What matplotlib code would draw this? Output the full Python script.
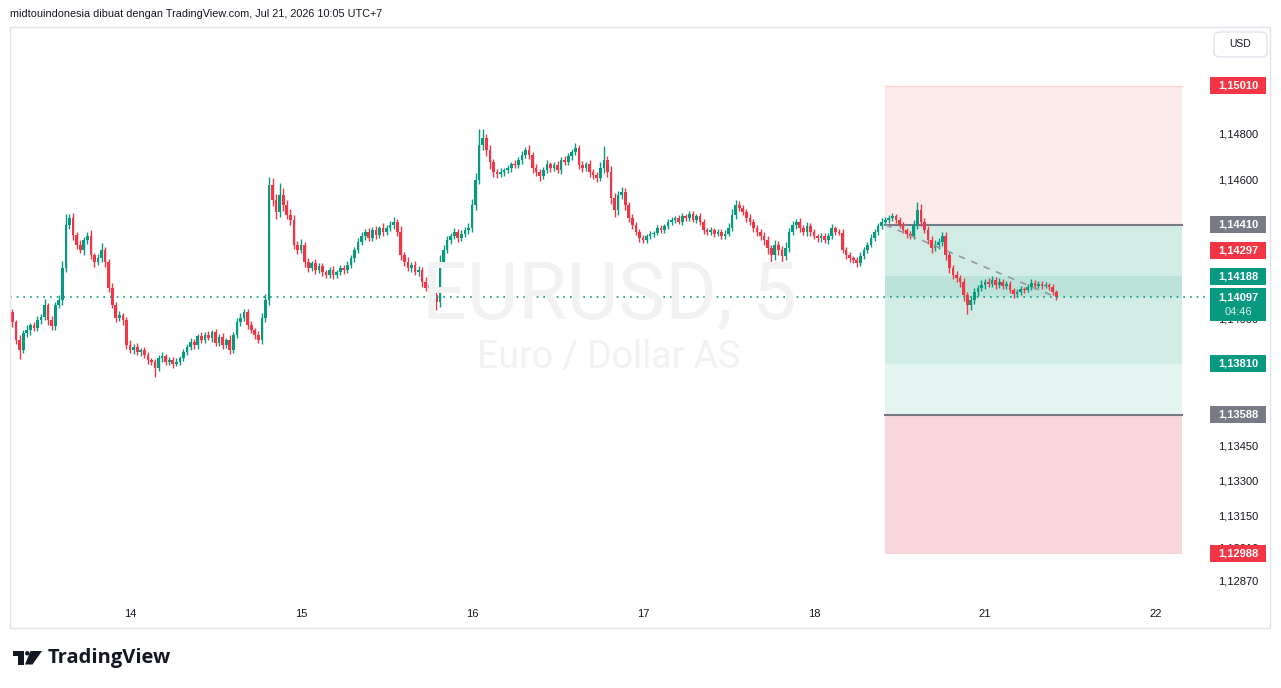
import matplotlib.pyplot as plt
import matplotlib.transforms as mtransforms
from matplotlib.patches import Rectangle, FancyBboxPatch, Polygon, Circle
import numpy as np

# ---- data (30 min bars) ----
closes = [
    1.14033, 1.13990, 1.13912, 1.13869, 1.13942, 1.13955, 1.13977, 1.13964, 1.13998, 1.14011,
    1.14063, 1.13998, 1.13972, 1.14063, 1.14085, 1.14223, 1.14409, 1.14439, 1.14366, 1.14323,
    1.14301, 1.14344, 1.14361, 1.14279, 1.14249, 1.14266, 1.14301, 1.14249, 1.14137, 1.14063,
    1.14007, 1.14020, 1.13998, 1.13890, 1.13869, 1.13882, 1.13860, 1.13869, 1.13847, 1.13825,
    1.13817, 1.13791, 1.13834, 1.13843, 1.13817, 1.13825, 1.13808, 1.13817, 1.13834, 1.13860,
    1.13882, 1.13903, 1.13890, 1.13929, 1.13912, 1.13934, 1.13921, 1.13946, 1.13899, 1.13925,
    1.13890, 1.13912, 1.13869, 1.13934, 1.13990, 1.14007, 1.14033, 1.13977, 1.13955, 1.13934,
    1.13912, 1.14007, 1.14085, 1.14582, 1.14517, 1.14465, 1.14539, 1.14496, 1.14452, 1.14431,
    1.14323, 1.14301, 1.14323, 1.14249, 1.14223, 1.14245, 1.14215, 1.14232, 1.14206, 1.14193,
    1.14215, 1.14193, 1.14206, 1.14223, 1.14215, 1.14236, 1.14266, 1.14301, 1.14335, 1.14361,
    1.14378, 1.14353, 1.14387, 1.14366, 1.14396, 1.14378, 1.14396, 1.14409, 1.14422, 1.14378,
    1.14279, 1.14249, 1.14223, 1.14236, 1.14206, 1.14215, 1.14163, 1.14137, 1.14150, 1.14107,
    1.14076, 1.14249, 1.14301, 1.14344, 1.14361, 1.14378, 1.14353, 1.14370, 1.14387, 1.14396,
    1.14496, 1.14604, 1.14755, 1.14785, 1.14733, 1.14681, 1.14638, 1.14629, 1.14638, 1.14647,
    1.14655, 1.14673, 1.14668, 1.14690, 1.14712, 1.14733, 1.14712, 1.14655, 1.14638, 1.14621,
    1.14647, 1.14673, 1.14655, 1.14668, 1.14647, 1.14690, 1.14681, 1.14707, 1.14725, 1.14742,
    1.14668, 1.14655, 1.14673, 1.14638, 1.14625, 1.14612, 1.14655, 1.14690, 1.14638, 1.14526,
    1.14474, 1.14539, 1.14552, 1.14496, 1.14439, 1.14409, 1.14378, 1.14353, 1.14344, 1.14361,
    1.14370, 1.14374, 1.14396, 1.14387, 1.14404, 1.14422, 1.14431, 1.14439, 1.14422, 1.14448,
    1.14439, 1.14457, 1.14431, 1.14448, 1.14422, 1.14387, 1.14378, 1.14387, 1.14370, 1.14378,
    1.14361, 1.14370, 1.14396, 1.14452, 1.14496, 1.14483, 1.14465, 1.14439, 1.14422, 1.14396,
    1.14378, 1.14361, 1.14344, 1.14309, 1.14279, 1.14323, 1.14301, 1.14275, 1.14309, 1.14378,
    1.14409, 1.14422, 1.14396, 1.14378, 1.14404, 1.14378, 1.14361, 1.14353, 1.14361, 1.14344,
    1.14361, 1.14396, 1.14378, 1.14374, 1.14301, 1.14279, 1.14266, 1.14258, 1.14245, 1.14275,
    1.14301, 1.14323, 1.14353, 1.14378, 1.14404, 1.14422, 1.14431, 1.14439, 1.14448, 1.14431,
    1.14409, 1.14387, 1.14370, 1.14361, 1.14409, 1.14474, 1.14422, 1.14387, 1.14344, 1.14309,
    1.14323, 1.14335, 1.14361, 1.14279, 1.14223, 1.14193, 1.14180, 1.14163, 1.14107, 1.14063,
    1.14085, 1.14120, 1.14137, 1.14150, 1.14163, 1.14154, 1.14171, 1.14150, 1.14163, 1.14145,
    1.14154, 1.14128, 1.14111, 1.14120, 1.14132, 1.14128, 1.14141, 1.14158, 1.14145, 1.14154,
    1.14145, 1.14150, 1.14141, 1.14120, 1.14097,
]
first_open = 1.14011

# wick lengths above / below the body, in points (0.00001)
upper_wick = [
    18, 12, 10, 20, 15, 22, 10, 14, 20, 12,
    25, 10, 18, 15, 20, 30, 25, 16, 20, 14,
    22, 12, 18, 25, 10, 16, 30, 12, 15, 20,
    12, 18, 10, 15, 20, 12, 16, 10, 14, 12,
    10, 15, 12, 18, 10, 14, 12, 16, 10, 14,
    12, 18, 14, 10, 16, 12, 18, 10, 14, 12,
    16, 10, 20, 14, 18, 22, 15, 12, 18, 10,
    15, 20, 25, 35, 30, 25, 45, 30, 20, 25,
    20, 15, 25, 12, 18, 10, 16, 12, 14, 10,
    12, 16, 10, 14, 12, 18, 15, 12, 16, 20,
    14, 18, 12, 16, 10, 20, 14, 18, 22, 12,
    25, 14, 20, 12, 16, 18, 12, 20, 14, 16,
    15, 30, 20, 16, 14, 18, 12, 16, 14, 20,
    25, 30, 20, 40, 18, 22, 14, 12, 16, 10,
    14, 10, 16, 12, 18, 14, 20, 12, 16, 14,
    12, 18, 10, 14, 16, 12, 18, 14, 12, 22,
    14, 16, 10, 18, 12, 14, 25, 60, 18, 25,
    20, 18, 22, 16, 14, 18, 12, 16, 14, 10,
    12, 10, 14, 12, 10, 14, 12, 10, 14, 12,
    10, 14, 12, 10, 14, 12, 10, 12, 10, 14,
    12, 16, 20, 25, 20, 16, 14, 12, 16, 12,
    14, 12, 16, 18, 14, 20, 16, 18, 25, 20,
    18, 14, 16, 12, 18, 12, 14, 10, 12, 14,
    12, 18, 10, 12, 16, 12, 14, 10, 12, 16,
    12, 14, 16, 12, 14, 16, 12, 14, 12, 10,
    14, 12, 10, 14, 20, 35, 25, 18, 20, 16,
    22, 18, 20, 16, 14, 12, 16, 14, 18, 12,
    18, 16, 14, 20, 14, 16, 18, 14, 16, 12,
    14, 12, 10, 14, 12, 10, 14, 16, 12, 14,
    12, 14, 10, 12, 8,
]
lower_wick = [
    15, 20, 18, 40, 12, 16, 20, 12, 15, 18,
    12, 20, 15, 18, 14, 20, 15, 18, 22, 16,
    14, 20, 16, 18, 22, 12, 16, 20, 18, 14,
    16, 12, 20, 18, 14, 16, 12, 18, 14, 16,
    14, 40, 12, 16, 14, 12, 18, 10, 14, 12,
    14, 12, 16, 18, 12, 14, 10, 16, 12, 14,
    18, 12, 16, 14, 12, 16, 14, 18, 12, 16,
    14, 18, 16, 20, 25, 30, 20, 25, 18, 20,
    16, 18, 14, 20, 16, 14, 18, 12, 16, 14,
    12, 16, 14, 12, 16, 14, 12, 16, 14, 12,
    16, 14, 12, 18, 14, 16, 12, 14, 16, 18,
    20, 16, 14, 18, 12, 16, 20, 14, 16, 18,
    35, 20, 16, 14, 18, 12, 16, 14, 12, 16,
    18, 20, 16, 20, 25, 30, 20, 16, 14, 18,
    12, 16, 14, 12, 16, 14, 18, 20, 16, 22,
    14, 12, 16, 14, 12, 16, 14, 12, 16, 14,
    18, 16, 14, 20, 18, 16, 14, 20, 22, 25,
    30, 20, 18, 20, 16, 18, 14, 16, 12, 14,
    12, 14, 10, 12, 14, 10, 12, 14, 10, 12,
    14, 12, 10, 14, 12, 16, 12, 14, 12, 10,
    12, 14, 10, 14, 16, 12, 14, 16, 14, 18,
    16, 18, 20, 25, 30, 20, 22, 25, 18, 16,
    14, 16, 18, 14, 16, 18, 14, 16, 18, 14,
    16, 12, 14, 10, 14, 16, 18, 14, 16, 12,
    14, 12, 10, 14, 12, 10, 12, 14, 12, 14,
    12, 14, 16, 14, 12, 16, 18, 14, 16, 20,
    14, 16, 18, 20, 22, 18, 16, 20, 25, 40,
    20, 16, 18, 14, 16, 12, 14, 16, 12, 14,
    12, 14, 16, 12, 14, 12, 10, 14, 12, 10,
    12, 10, 14, 12, 10,
]
# extreme spikes visible on the chart
spike_highs = {16: 1.14455, 73: 1.14617, 76: 1.14591, 108: 1.14431, 132: 1.14825,
               159: 1.14764, 167: 1.14750, 204: 1.14517, 255: 1.14505}
spike_lows = {3: 1.13835, 41: 1.13774, 120: 1.14050, 214: 1.14245, 269: 1.14029}

day_labels = ["14", "15", "16", "17", "18", "21", "22"]
first_day_bar = 34
bars_per_day = 48

# position tool
tool_start = 246
tool_end = 329.3
stop_top = 1.15010
entry = 1.14410
zone_top = 1.14188
zone_bottom = 1.13810
target = 1.13588
stop_bottom = 1.12988
last_price = 1.14097
countdown = "04:46"

axis_ticks = [1.14800, 1.14600, 1.14400, 1.14200, 1.14000, 1.13450, 1.13300, 1.13150, 1.13010, 1.12870]
badges = [(1.15010, "#f23645"), (1.14410, "#787b86"), (1.14297, "#f23645"), (1.14188, "#089981"),
          (1.13810, "#089981"), (1.13588, "#787b86"), (1.12988, "#f23645")]

UP = "#089981"
DOWN = "#f23645"
W, H = 1281, 688
PX = 1 / 23131  # price per pixel

fig = plt.figure(figsize=(W / 100, H / 100), dpi=100)
fig.patch.set_facecolor("white")
ax = fig.add_axes([10 / W, (H - 598) / H, 1260 / W, 571 / H])
ax.set_xlim(0.3, 354.0)
ax.set_ylim(1.12797, 1.15265)
for s in ax.spines.values():
    s.set_visible(False)
ax.set_yticks([])

# frame
fig.patches.append(Rectangle((10 / W, (H - 628) / H), 1260 / W, 601 / H, transform=fig.transFigure,
                             fill=False, ec="#e0e3eb", lw=1))

# watermark
fig.text(609 / W, (H - 318) / H, "EURUSD, 5", ha="center", va="baseline",
         fontsize=57, family="Roboto", color="#f2f2f3", zorder=0)
fig.text(609 / W, (H - 368) / H, "Euro / Dollar AS", ha="center", va="baseline",
         fontsize=27, family="Roboto", color="#f2f2f3", zorder=0)
ax.patch.set_alpha(0)

# position tool
tw = tool_end - tool_start
ax.add_patch(Rectangle((tool_start, entry), tw, stop_top - entry, fc="#fdeaea", ec="none", zorder=1))
ax.add_patch(Rectangle((tool_start, zone_bottom), tw, entry - zone_bottom, fc="#d1ebe5", ec="none", zorder=1))
ax.add_patch(Rectangle((tool_start, last_price), tw, zone_top - last_price, fc="#bbe3d9", ec="none", zorder=1))
ax.add_patch(Rectangle((tool_start, target), tw, zone_bottom - target, fc="#e4f4f0", ec="none", zorder=1))
ax.add_patch(Rectangle((tool_start, stop_bottom), tw, target - stop_bottom, fc="#f9d6da", ec="none", zorder=1))
ax.plot([tool_start, tool_end], [entry, entry], color="#787b86", lw=1.5, zorder=2)
ax.plot([tool_start, tool_end], [target, target], color="#787b86", lw=1.5, zorder=2)
ax.plot([tool_start, tool_end], [stop_top, stop_top], color="#fbd3d3", lw=1, zorder=2)

# candles
c = np.array(closes)
x = np.arange(len(c))
o = np.r_[first_open, c[:-1]]
lo = np.minimum(o, c)
hi = np.maximum(o, c)
colors = np.where(c >= o, UP, DOWN)
wh = hi + np.array(upper_wick) * 1e-5
wl = lo - np.array(lower_wick) * 1e-5
for k, v in spike_highs.items():
    wh[k] = max(wh[k], v)
for k, v in spike_lows.items():
    wl[k] = min(wl[k], v)
ax.vlines(x, wl, wh, colors=colors, lw=1.0, zorder=3)
ax.bar(x, np.maximum(hi - lo, 1.5 * PX), bottom=lo, width=0.75, color=colors, lw=0, zorder=3)

# dashed path from entry to last price
ax.plot([tool_start, x[-1]], [entry, last_price], color="#9598a1", lw=1.2, ls=(0, (4, 4)), zorder=4)

# last price line
ax.axhline(last_price, xmin=0, xmax=1198 / 1260, color=UP, lw=1.2, ls=(0, (1, 3)), zorder=4)

# date axis
ax.set_xticks([first_day_bar + bars_per_day * k for k in range(len(day_labels))])
ax.set_xticklabels(day_labels, fontsize=8, family="Liberation Sans", color="#131722")
ax.tick_params(axis="x", length=0, pad=8)

# price axis
tr = mtransforms.blended_transform_factory(ax.transAxes, ax.transData)
xc = (1238 - 10) / 1260
bx0 = (1210 - 10) / 1260
bw = 56 / 1260
for v in axis_ticks:
    ax.text(xc, v, f"{v:.5f}".replace(".", ","), transform=tr, ha="center", va="center",
            fontsize=8, family="Liberation Sans", color="#131722", zorder=5)

for v, col in badges:
    ax.add_patch(Rectangle((bx0, v - 8.5 * PX), bw, 17 * PX, transform=tr,
                           fc=col, ec="none", zorder=6, clip_on=False))
    ax.text(xc, v, f"{v:.5f}".replace(".", ","), transform=tr, ha="center", va="center",
            fontsize=8, family="Liberation Sans", fontweight="bold", color="white", zorder=7)

# last price badge with countdown
ax.add_patch(Rectangle((bx0, last_price - 24 * PX), bw, 33 * PX, transform=tr,
                       fc=UP, ec="none", zorder=6, clip_on=False))
ax.text(xc, last_price, f"{last_price:.5f}".replace(".", ","), transform=tr, ha="center", va="center",
        fontsize=8, family="Liberation Sans", fontweight="bold", color="white", zorder=7)
ax.text(xc, last_price - 15 * PX, countdown, transform=tr, ha="center", va="center",
        fontsize=8, family="Liberation Sans", color="#d8f0ea", zorder=7)

# currency button
fig.patches.append(FancyBboxPatch((1214 / W, (H - 57) / H), 53 / W, 25 / H,
                                  boxstyle="round,pad=0,rounding_size=0.006",
                                  transform=fig.transFigure, fc="white", ec="#e0e3eb", lw=1))
fig.text(1240 / W, (H - 44) / H, "USD", ha="center", va="center", fontsize=7.5,
         family="Liberation Sans", color="#131722")

# header
fig.text(10 / W, (H - 14) / H, "midtouindonesia dibuat dengan TradingView.com, Jul 21, 2026 10:05 UTC+7",
         ha="left", va="center", fontsize=7.8, family="Liberation Sans", color="#131722")

# logo
lg = fig.add_axes([12 / W, (H - 668) / H, 32 / W, 20 / H])
lg.set_xlim(12, 44)
lg.set_ylim(668, 648)
lg.axis("off")
lg.add_patch(Rectangle((12.5, 651), 11.5, 4.5, fc="#131722", ec="none"))
lg.add_patch(Rectangle((18.2, 651), 5.8, 13.5, fc="#131722", ec="none"))
lg.add_patch(Circle((27.3, 653.3), 2.2, fc="#131722", ec="none"))
lg.add_patch(Polygon([(30.5, 651), (42, 651), (32.5, 664.5), (25, 664.5)], fc="#131722", ec="none"))
fig.text(48 / W, (H - 658) / H, "TradingView", ha="left", va="center", fontsize=14.5, family="Open Sans",
         fontweight="bold", color="#131722")

fig.savefig("out.png", dpi=100)
